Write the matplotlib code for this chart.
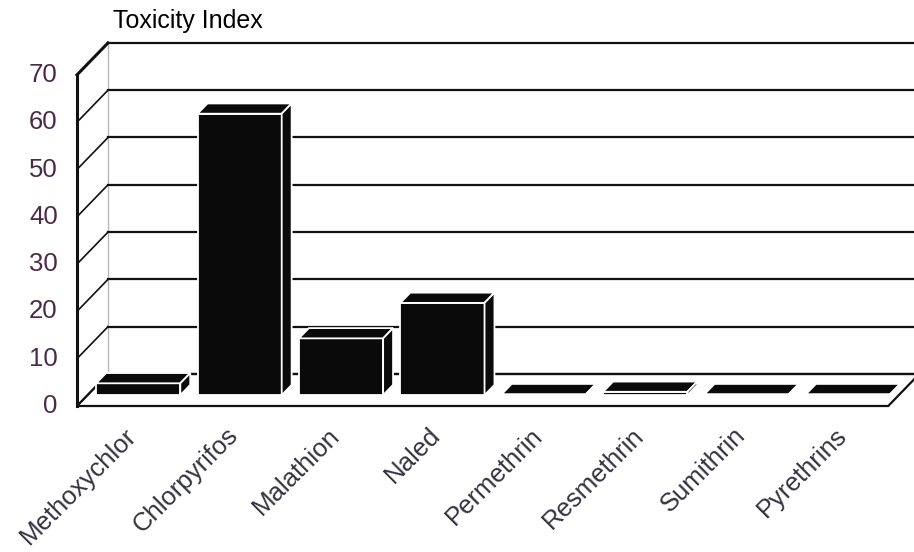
import matplotlib
matplotlib.use("Agg")
import matplotlib.pyplot as plt
from matplotlib.patches import Polygon

plt.rcParams["font.family"] = ["Liberation Sans", "DejaVu Sans"]

compounds = ["Methoxychlor", "Chlorpyrifos", "Malathion", "Naled",
             "Permethrin", "Resmethrin", "Sumithrin", "Pyrethrins"]
toxicity = [2.5, 59.5, 12, 19.5, 0.2, 0.7, 0.2, 0.2]
y_ticks = [0, 10, 20, 30, 40, 50, 60, 70]

# oblique offset of the plot box depth, in category / value units
DX, DY = 0.306, 6.77
# bar width and the slice of depth each bar occupies
BAR_W = 0.83
D0, D1 = 0.34, 0.66

n = len(compounds)
ymax = y_ticks[-1]


def pt(x, v, d):
    return (x + d * DX, v + d * DY)


fig = plt.figure(figsize=(9.14, 5.52), dpi=100)
ax = fig.add_axes([0, 0, 1, 1])
ax.set_xlim(-0.759, 8.254)
ax.set_ylim(-30.87, 85.84)
ax.axis("off")

# floor
floor = Polygon([pt(0, 0, 0), pt(n, 0, 0), pt(n, 0, 1), pt(0, 0, 1)],
                closed=True, fc="white", ec="#111111", lw=1.6, zorder=1)
ax.add_patch(floor)

# back wall gridlines and side wall diagonals
for v in y_ticks:
    ax.plot([DX, n + DX], [v + DY, v + DY], color="#111111", lw=1.6, zorder=1)
    ax.plot([0, DX], [v, v + DY], color="#111111",
            lw=2.2 if v == ymax else 1.2, zorder=1)
ax.plot([DX, DX], [DY, ymax + DY], color="#b8b8b8", lw=1.0, zorder=0.5)
ax.plot([0, 0], [0, ymax], color="#111111", lw=2.2, zorder=2)

# 3d bars: front, top and right faces
for i, val in enumerate(toxicity):
    x0 = i + 0.5 - BAR_W / 2
    x1 = x0 + BAR_W
    faces = [
        [pt(x0, 0, D0), pt(x1, 0, D0), pt(x1, val, D0), pt(x0, val, D0)],
        [pt(x0, val, D0), pt(x1, val, D0), pt(x1, val, D1), pt(x0, val, D1)],
        [pt(x1, 0, D0), pt(x1, 0, D1), pt(x1, val, D1), pt(x1, val, D0)],
    ]
    for f in faces:
        ax.add_patch(Polygon(f, closed=True, fc="#0a0a0a", ec="white",
                             lw=1.3, zorder=3))

# value axis labels
for v in y_ticks:
    ax.text(-0.19, v, str(v), ha="right", va="center", fontsize=18.5,
            color="#4b2a48")

# category labels
for i, name in enumerate(compounds):
    ax.text(i + 0.60, -6.5, name, ha="right", va="baseline", rotation=45,
            rotation_mode="anchor", fontsize=18.5, color="#333340")

ax.text(0.355, 79.9, "Toxicity Index", ha="left", va="baseline",
        fontsize=18, color="black")

fig.savefig("out.png", dpi=100, facecolor="white")
